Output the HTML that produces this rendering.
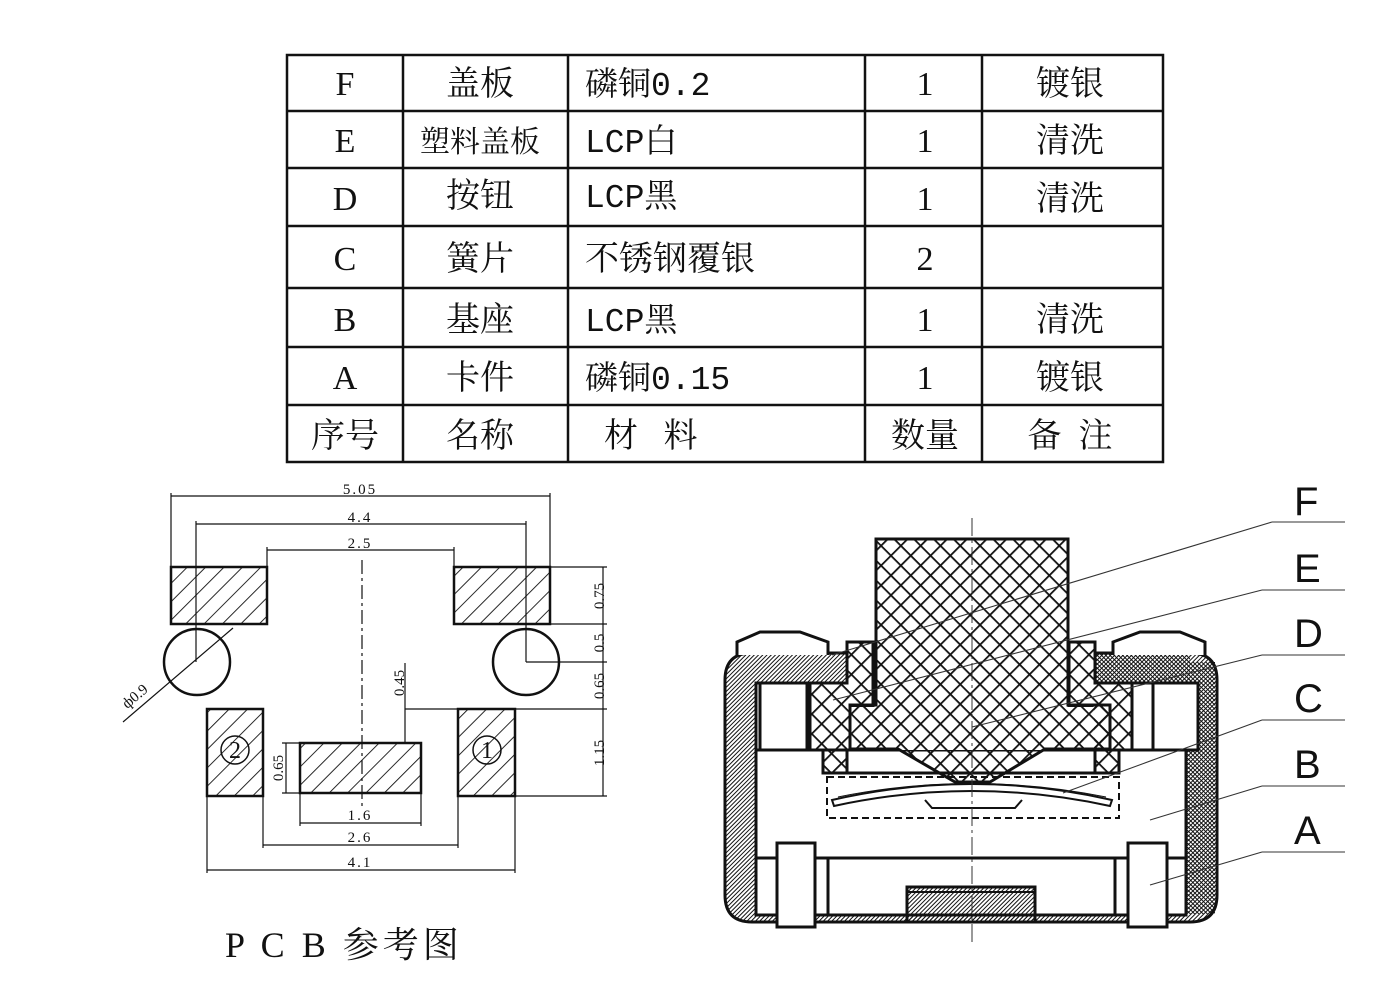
<!DOCTYPE html>
<html><head><meta charset="utf-8"><style>
html,body{margin:0;padding:0;background:#fff;width:1400px;height:1000px;overflow:hidden}
svg{display:block}
text{font-family:"Liberation Serif","Noto Serif CJK SC","Noto Sans CJK SC",serif;fill:#111}
.t{font-size:34px}
text.m{font-family:"Liberation Mono","Noto Serif CJK SC",monospace;font-size:33px}
.d{font-size:15px;fill:#333}
text.lb{font-family:"Liberation Sans",sans-serif;font-size:40px}
</style></head><body>
<svg width="1400" height="1000" viewBox="0 0 1400 1000" xmlns="http://www.w3.org/2000/svg">
<defs>
<pattern id="h1" width="13" height="13" patternUnits="userSpaceOnUse" patternTransform="rotate(45)">
<line x1="0" y1="0" x2="0" y2="13" stroke="#111" stroke-width="1.8"/></pattern>
<pattern id="hd" width="3" height="3" patternUnits="userSpaceOnUse" patternTransform="rotate(45)">
<line x1="0" y1="0" x2="0" y2="3" stroke="#111" stroke-width="2"/></pattern>
<pattern id="hd2" width="3" height="3" patternUnits="userSpaceOnUse" patternTransform="rotate(-45)">
<line x1="0" y1="0" x2="0" y2="3" stroke="#111" stroke-width="2"/></pattern>
<pattern id="cx" width="14" height="14" patternUnits="userSpaceOnUse" patternTransform="rotate(45)">
<line x1="0" y1="0" x2="0" y2="14" stroke="#111" stroke-width="3.6"/>
<line x1="0" y1="0" x2="14" y2="0" stroke="#111" stroke-width="3.6"/></pattern>
</defs>

<g stroke="#111" stroke-width="2.5" fill="none">
<rect x="287" y="55" width="876" height="407"/>
<line x1="287" y1="111" x2="1163" y2="111"/>
<line x1="287" y1="168" x2="1163" y2="168"/>
<line x1="287" y1="226" x2="1163" y2="226"/>
<line x1="287" y1="288" x2="1163" y2="288"/>
<line x1="287" y1="347" x2="1163" y2="347"/>
<line x1="287" y1="405" x2="1163" y2="405"/>
<line x1="403" y1="55" x2="403" y2="462"/>
<line x1="568" y1="55" x2="568" y2="462"/>
<line x1="865" y1="55" x2="865" y2="462"/>
<line x1="982" y1="55" x2="982" y2="462"/>
</g>
<g class="t" text-anchor="middle">
<text x="345" y="95">F</text><text x="480" y="95">盖板</text><text x="925" y="95">1</text><text x="1070" y="95">镀银</text>
<text x="345" y="152">E</text><text x="480" y="152" style="font-size:30px">塑料盖板</text><text x="925" y="152">1</text><text x="1070" y="152">清洗</text>
<text x="345" y="210">D</text><text x="480" y="207">按钮</text><text x="925" y="210">1</text><text x="1070" y="210">清洗</text>
<text x="345" y="270">C</text><text x="480" y="270">簧片</text><text x="925" y="270">2</text>
<text x="345" y="331">B</text><text x="480" y="331">基座</text><text x="925" y="331">1</text><text x="1070" y="331">清洗</text>
<text x="345" y="389">A</text><text x="480" y="389">卡件</text><text x="925" y="389">1</text><text x="1070" y="389">镀银</text>
<text x="345" y="447">序号</text><text x="480" y="447">名称</text><text x="925" y="447">数量</text><text x="1070" y="447" xml:space="preserve">备  注</text>
</g>
<g class="t">
<text class="m" x="585" y="95">磷铜0.2</text>
<text class="m" x="585" y="152">LCP白</text>
<text class="m" x="585" y="207">LCP黑</text>
<text x="585" y="270">不锈钢覆银</text>
<text class="m" x="585" y="331">LCP黑</text>
<text class="m" x="585" y="389">磷铜0.15</text>
<text x="604" y="447" xml:space="preserve">材   料</text>
</g>

<g stroke="#111" stroke-width="1.2" fill="none">
<line x1="171" y1="496" x2="550" y2="496"/><line x1="171" y1="493" x2="171" y2="567"/><line x1="550" y1="493" x2="550" y2="567"/>
<line x1="196" y1="524" x2="526" y2="524"/><line x1="196" y1="521" x2="196" y2="662"/><line x1="526" y1="521" x2="526" y2="662"/>
<line x1="267" y1="550" x2="454" y2="550"/><line x1="267" y1="547" x2="267" y2="567"/><line x1="454" y1="547" x2="454" y2="567"/>
<line x1="550" y1="567" x2="607" y2="567"/><line x1="550" y1="624" x2="607" y2="624"/><line x1="526" y1="662" x2="607" y2="662"/>
<line x1="405" y1="709" x2="607" y2="709"/><line x1="515" y1="796" x2="607" y2="796"/>
<line x1="603" y1="567" x2="603" y2="796"/>
<line x1="405" y1="663" x2="405" y2="743"/>
<line x1="282" y1="743" x2="300" y2="743"/><line x1="282" y1="793" x2="300" y2="793"/><line x1="286" y1="743" x2="286" y2="793"/>
<line x1="300" y1="793" x2="300" y2="826"/><line x1="421" y1="793" x2="421" y2="826"/><line x1="300" y1="823" x2="421" y2="823"/>
<line x1="263" y1="796" x2="263" y2="848"/><line x1="458" y1="796" x2="458" y2="848"/><line x1="263" y1="845" x2="458" y2="845"/>
<line x1="207" y1="796" x2="207" y2="873"/><line x1="515" y1="796" x2="515" y2="873"/><line x1="207" y1="870" x2="515" y2="870"/>
<line x1="233" y1="628" x2="123" y2="722"/>
<line x1="362" y1="560" x2="362" y2="810" stroke-dasharray="14,4,3,4"/>
</g>
<g stroke="#111" stroke-width="2.5">
<rect x="171" y="567" width="96" height="57" fill="url(#h1)"/>
<rect x="454" y="567" width="96" height="57" fill="url(#h1)"/>
<rect x="207" y="709" width="56" height="87" fill="url(#h1)"/>
<rect x="458" y="709" width="57" height="87" fill="url(#h1)"/>
<rect x="300" y="743" width="121" height="50" fill="url(#h1)"/>
<circle cx="197" cy="662" r="33" fill="none"/>
<circle cx="526" cy="662" r="33" fill="none"/>
<circle cx="235" cy="750" r="14" fill="none" stroke-width="1.5"/>
<circle cx="487" cy="750" r="14" fill="none" stroke-width="1.5"/>
</g>
<g class="d" text-anchor="middle">
<text x="235" y="758" style="font-size:24px">2</text><text x="487" y="758" style="font-size:24px">1</text>
<text x="360" y="494" style="letter-spacing:2px">5.05</text><text x="360" y="522" style="letter-spacing:2px">4.4</text><text x="360" y="548" style="letter-spacing:2px">2.5</text>
<text x="360" y="820" style="letter-spacing:2px">1.6</text><text x="360" y="842" style="letter-spacing:2px">2.6</text><text x="360" y="867" style="letter-spacing:2px">4.1</text>
<text transform="translate(604,596) rotate(-90)">0.75</text>
<text transform="translate(604,643) rotate(-90)">0.5</text>
<text transform="translate(604,686) rotate(-90)">0.65</text>
<text transform="translate(604,753) rotate(-90)">1.15</text>
<text transform="translate(404,683) rotate(-90)">0.45</text>
<text transform="translate(283,768) rotate(-90)">0.65</text>
<text transform="translate(138,700) rotate(-40)">ф0.9</text>
</g>
<text x="225" y="957" style="font-size:36px;letter-spacing:4px" xml:space="preserve">P C B 参考图</text>

<g stroke="#111" stroke-width="3">
<path d="M725,680 Q725,653 752,653 L847,653 L847,683 L756,683 L756,915 L1186,915 L1186,683 L1095,683 L1095,653 L1190,653 Q1217,653 1217,680 L1217,895 Q1217,922 1190,922 L752,922 Q725,922 725,895 Z" fill="url(#hd)"/>
<rect x="1095" y="654" width="95" height="28" fill="url(#hd2)" stroke="none"/>
<rect x="1187" y="662" width="28" height="252" fill="url(#hd2)" stroke="none"/>
<path d="M737,655 L737,642 L760,632 L800,632 L828,642 L828,655" fill="#fff"/>
<path d="M1113,655 L1113,642 L1140,632 L1180,632 L1205,642 L1205,655" fill="#fff"/>
<rect x="760" y="683" width="47" height="67" fill="#fff"/>
<rect x="1153" y="683" width="45" height="67" fill="#fff"/>
<line x1="756" y1="750" x2="1186" y2="750"/>
<path d="M847,642 L873,642 L873,707 L850,707 L850,750 L847,750 L847,773 L823,773 L823,750 L810,750 L810,683 L847,683 Z" fill="url(#cx)"/>
<path d="M1095,642 L1069,642 L1069,707 L1092,707 L1092,750 L1095,750 L1095,773 L1119,773 L1119,750 L1132,750 L1132,683 L1095,683 Z" fill="url(#cx)"/>
<rect x="849" y="707" width="245" height="43" fill="#fff" stroke="none"/>
<path d="M876,539 L1068,539 L1068,705 L1110,705 L1110,749 L1045,749 L990,782 L955,782 L898,749 L850,749 L850,705 L876,705 Z" fill="url(#cx)"/>
<line x1="823" y1="773" x2="1119" y2="773"/>
<rect x="827" y="777" width="292" height="41" fill="none" stroke-width="2" stroke-dasharray="7,4"/>
<path d="M832,800 Q972,768 1112,800 L1110,806 Q972,776 834,806 Z" fill="#fff" stroke-width="2"/>
<path d="M838,797 Q972,770 1106,797" fill="none" stroke-width="1"/>
<path d="M925,800 L932,808 L1015,808 L1022,800" fill="none" stroke-width="2"/>
<line x1="756" y1="858" x2="1186" y2="858"/>
<rect x="777" y="843" width="38" height="84" fill="#fff"/>
<rect x="1128" y="843" width="39" height="84" fill="#fff"/>
<line x1="828" y1="858" x2="828" y2="915"/>
<line x1="1115" y1="858" x2="1115" y2="915"/>
<rect x="907" y="887" width="128" height="35" fill="url(#hd)"/>
<line x1="907" y1="892" x2="1035" y2="892" stroke-width="2"/>
</g>
<line x1="972" y1="518" x2="972" y2="942" stroke="#333" stroke-width="1" stroke-dasharray="18,4,3,4"/>
<g stroke="#333" stroke-width="1.1" fill="none">
<line x1="1272" y1="522" x2="1345" y2="522"/><line x1="1272" y1="522" x2="832" y2="655"/>
<line x1="1262" y1="590" x2="1345" y2="590"/><line x1="1262" y1="590" x2="833" y2="700"/>
<line x1="1262" y1="655" x2="1345" y2="655"/><line x1="1262" y1="655" x2="972" y2="727"/>
<line x1="1262" y1="720" x2="1345" y2="720"/><line x1="1262" y1="720" x2="1063" y2="793"/>
<line x1="1262" y1="786" x2="1345" y2="786"/><line x1="1262" y1="786" x2="1150" y2="820"/>
<line x1="1262" y1="852" x2="1345" y2="852"/><line x1="1262" y1="852" x2="1150" y2="885"/>
</g>
<g>
<text class="lb" x="1294" y="515">F</text><text class="lb" x="1294" y="582">E</text><text class="lb" x="1294" y="647">D</text>
<text class="lb" x="1294" y="712">C</text><text class="lb" x="1294" y="778">B</text><text class="lb" x="1294" y="844">A</text>
</g>
</svg>
</body></html>
